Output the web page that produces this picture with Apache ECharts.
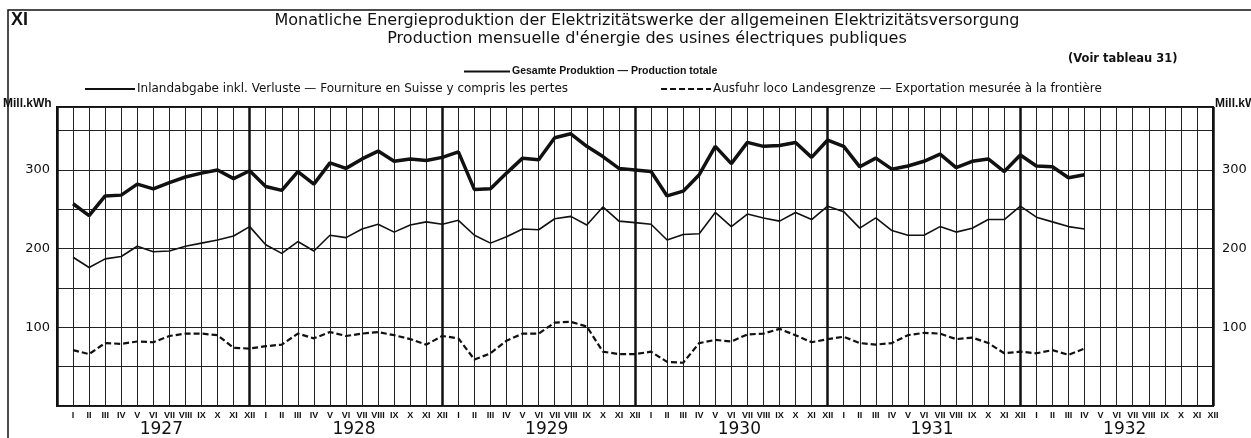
<!DOCTYPE html>
<html>
<head>
<meta charset="utf-8">
<script src="https://cdn.jsdelivr.net/npm/echarts@6/dist/echarts.min.js"></script>
<style>html,body{margin:0;background:#fff}#drew{width:1251px;height:438px}</style>
</head>
<body>
<div id="drew"></div>
<script>
   // months I..XII, years on the axis, labelled y values
   var months = ['I', 'II', 'III', 'IV', 'V', 'VI', 'VII', 'VIII', 'IX', 'X', 'XI', 'XII'];
   var years = [1927, 1928, 1929, 1930, 1931, 1932];
   var yTicks = [100, 200, 300];

   // Mill. kWh, Jan 1927 .. Apr 1932
   var total = [
       257, 242, 267, 268, 282, 276, 284, 291, 296, 300, 289, 299,
       279, 274, 298, 282, 309, 302, 314, 324, 311, 314, 312, 316,
       323, 275, 276, 296, 315, 313, 341, 346, 330, 317, 302, 300,
       298, 267, 273, 294, 330, 308, 335, 330, 331, 335, 316, 338,
       330, 304, 315, 301, 305, 311, 320, 303, 311, 314, 298, 319,
       305, 304, 290, 294
   ];
   var inland = [
       189, 176, 187, 190, 203, 196, 197, 203, 207, 211, 216, 228,
       205, 194, 209, 197, 217, 214, 225, 231, 221, 230, 234, 231,
       236, 217, 207, 215, 225, 224, 238, 241, 230, 253, 235, 233,
       231, 211, 218, 219, 246, 228, 244, 239, 235, 246, 237, 254,
       247, 226, 239, 223, 217, 217, 228, 221, 226, 237, 237, 254,
       240, 234, 228, 225
   ];
   var exported = [
       71, 66, 80, 79, 82, 81, 89, 92, 92, 90, 74, 73,
       76, 78, 92, 86, 94, 89, 92, 94, 90, 85, 78, 89,
       86, 59, 67, 83, 92, 92, 106, 107, 101, 69, 66, 66,
       69, 56, 55, 80, 84, 82, 91, 92, 98, 90, 81, 85,
       88, 80, 78, 80, 90, 93, 92, 85, 87, 80, 67, 69,
       67, 71, 65, 73
   ];

   var nTotal = 'Gesamte Produktion — Production totale';
   var nInland = 'Inlandabgabe inkl. Verluste — Fourniture en Suisse y compris les pertes';
   var nExport = 'Ausfuhr loco Landesgrenze — Exportation mesurée à la frontière';

   function pairs(arr) {
       return arr.map(function(v, i) { return [i, v]; });
   }

   var ink = '#111';
   var wide = 'DejaVu Sans, Verdana, sans-serif';
   var arial = 'Liberation Sans, Arial, sans-serif';

   var myChart = echarts.init(document.getElementById('drew'));
   var option = {
       backgroundColor: '#fff',
       textStyle: { fontFamily: wide, color: ink },
       animation: false,
       title: [{
           text: 'Monatliche Energieproduktion der Elektrizitätswerke der allgemeinen Elektrizitätsversorgung\nProduction mensuelle d\'énergie des usines électriques publiques',
           left: 642,
           top: 7,
           textAlign: 'center',
           textStyle: { fontSize: 16, fontWeight: 'normal', lineHeight: 18, color: ink, fontFamily: wide }
       }, {
           text: 'XI',
           left: 11,
           top: 11,
           padding: 0,
           textStyle: { fontSize: 18, fontWeight: 'bold', color: ink, fontFamily: arial }
       }, {
           text: '(Voir tableau 31)',
           left: 1068,
           top: 53,
           padding: 0,
           textStyle: { fontSize: 11.5, fontWeight: 'bold', color: ink, fontFamily: wide }
       }, {
           text: 'Mill.kWh',
           left: 3,
           top: 98,
           padding: 0,
           textStyle: { fontSize: 12, fontWeight: 'bold', color: ink, fontFamily: arial }
       }, {
           text: 'Mill.kWh',
           left: 1215,
           top: 98,
           padding: 0,
           textStyle: { fontSize: 12, fontWeight: 'bold', color: ink, fontFamily: arial }
       }],
       legend: [{
           data: [nTotal],
           left: 463,
           top: 66,
           padding: 0,
           itemWidth: 46,
           itemHeight: 8,
           selectedMode: false,
           itemStyle: { opacity: 0 },
           textStyle: { fontSize: 10.5, fontWeight: 'bold', color: ink, fontFamily: arial, padding: [0, 0, 0, -3] }
       }, {
           data: [nInland, nExport],
           left: 84,
           top: 83,
           padding: 0,
           itemWidth: 50,
           itemHeight: 8,
           itemGap: 92,
           selectedMode: false,
           itemStyle: { opacity: 0 },
           textStyle: { fontSize: 12, color: ink, fontFamily: wide, padding: [0, 0, 0, -3] }
       }],
       grid: {
           left: 57, right: 38, top: 107, bottom: 28,
           show: true, borderColor: ink, borderWidth: 2
       },
       xAxis: [{
           type: 'value', min: -1, max: 71, interval: 1,
           axisLine: { show: false }, axisTick: { show: false },
           splitLine: { show: true, lineStyle: { color: '#222', width: 1 } },
           axisLabel: {
               margin: 5, fontSize: 9, fontWeight: 'bold', color: ink, fontFamily: arial,
               formatter: function(v) { return v < 0 ? '' : months[v % 12]; }
           }
       }, {
           type: 'value', min: -1, max: 71, interval: 0.5, position: 'bottom',
           axisLine: { show: false }, axisTick: { show: false }, splitLine: { show: false },
           axisLabel: {
               margin: 15, fontSize: 17, color: ink, fontFamily: wide,
               formatter: function(v) {
                   var k = v - 5.5;
                   return (k >= 0 && k % 12 === 0) ? String(years[k / 12]) : '';
               }
           }
       }, {
           // heavier line at each December
           type: 'value', min: -1, max: 71, interval: 12, position: 'bottom',
           axisLine: { show: false }, axisTick: { show: false }, axisLabel: { show: false },
           splitLine: { show: true, lineStyle: { color: ink, width: 2.5 } }
       }],
       yAxis: [{
           type: 'value', min: 0, max: 380, interval: 50, position: 'left',
           axisLine: { show: false }, axisTick: { show: false },
           splitLine: { show: true, lineStyle: { color: '#222', width: 1 } },
           axisLabel: {
               margin: 7, fontSize: 13, color: ink, fontFamily: wide,
               formatter: function(v) { return yTicks.indexOf(v) >= 0 ? String(v) : ''; }
           }
       }, {
           type: 'value', min: 0, max: 380, interval: 50, position: 'right',
           axisLine: { show: false }, axisTick: { show: false }, splitLine: { show: false },
           axisLabel: {
               margin: 9, fontSize: 13, color: ink, fontFamily: wide,
               formatter: function(v) { return yTicks.indexOf(v) >= 0 ? String(v) : ''; }
           }
       }],
       series: [{
           name: nTotal, type: 'line', data: pairs(total), symbol: 'none',
           lineStyle: { color: ink, width: 3.5 }, itemStyle: { color: ink }
       }, {
           name: nInland, type: 'line', data: pairs(inland), symbol: 'none',
           lineStyle: { color: ink, width: 1.6 }, itemStyle: { color: ink }
       }, {
           name: nExport, type: 'line', data: pairs(exported), symbol: 'none',
           lineStyle: { color: ink, width: 2.2, type: [6, 3] }, itemStyle: { color: ink }
       }],
       graphic: [{
           type: 'polyline',
           shape: { points: [[8, 438], [8, 10], [1251, 10]] },
           style: { stroke: ink, lineWidth: 1.5, fill: null }
       }]
   };
   myChart.setOption(option);
</script>
</body>
</html>
